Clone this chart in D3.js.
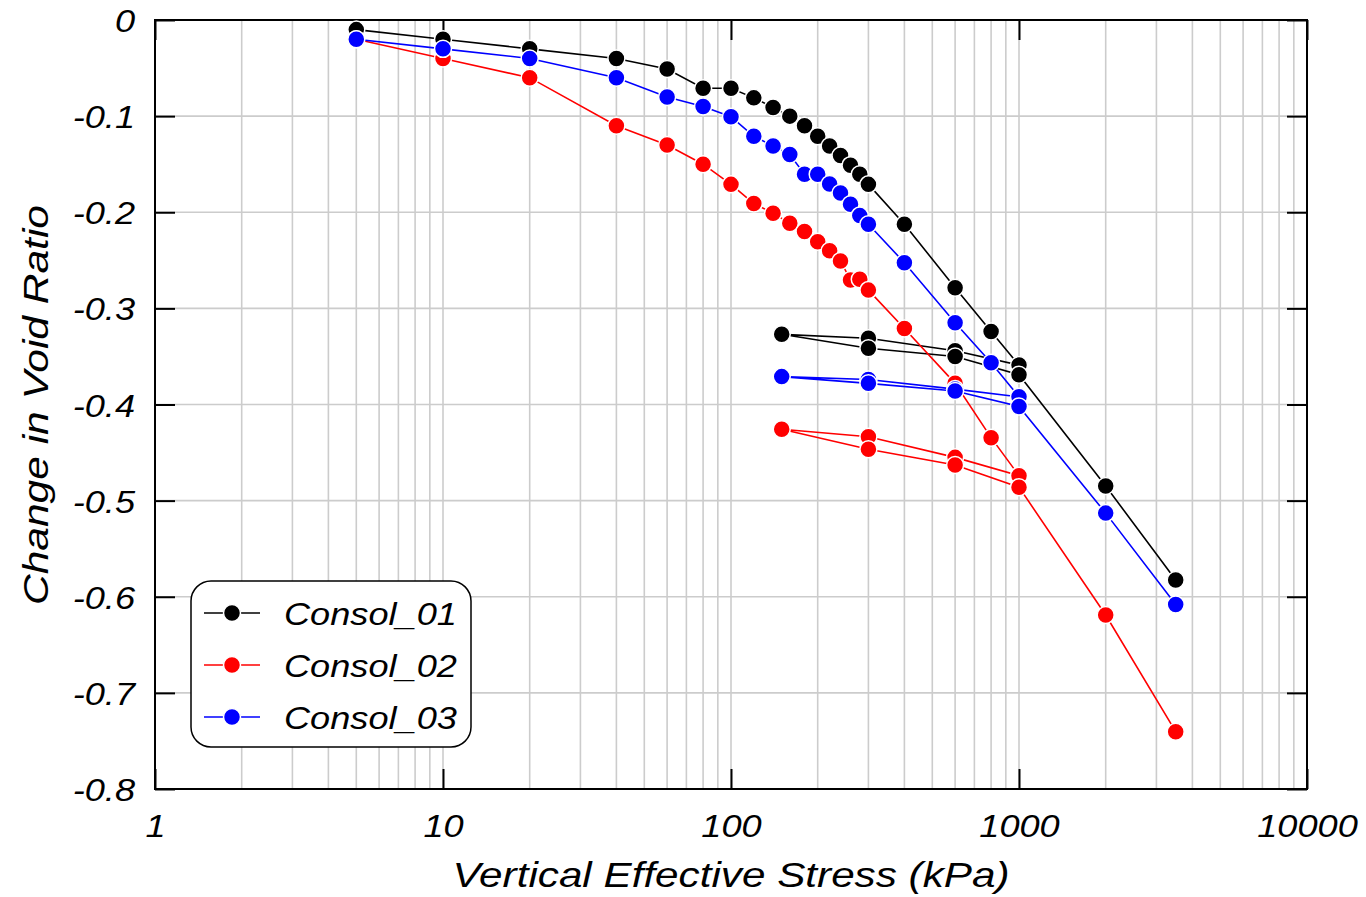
<!DOCTYPE html>
<html>
<head>
<meta charset="utf-8">
<script src="https://cdn.jsdelivr.net/npm/d3@7"></script>
<style>
  body { margin: 0; background: #fff; }
  svg { display: block; }
  text { font-family: "Liberation Sans", Arial, sans-serif; font-style: italic; fill: #000; }
</style>
</head>
<body>
<svg id="chart" width="1366" height="897"></svg>
<script>
// ---- data ----
const stress = [5,10,20,40,60,80,100,120,140,160,180,200,220,240,260,280,300,400,600,800,1000,600,300,150,300,600,1000,2000,3500];
const consol01 = [-0.01,-0.02,-0.03,-0.04,-0.051,-0.071,-0.071,-0.081,-0.091,-0.100,-0.110,-0.121,-0.131,-0.141,-0.151,-0.1605,-0.171,-0.2125,-0.2785,-0.324,-0.359,-0.344,-0.331,-0.327,-0.3415,-0.350,-0.369,-0.4848,-0.5826];
const consol02 = [-0.02,-0.04,-0.06,-0.11,-0.13,-0.15,-0.171,-0.191,-0.201,-0.2115,-0.220,-0.2306,-0.240,-0.2507,-0.2705,-0.2697,-0.281,-0.321,-0.378,-0.4345,-0.474,-0.455,-0.4335,-0.4258,-0.4466,-0.463,-0.486,-0.619,-0.7404];
const consol03 = [-0.02,-0.03,-0.04,-0.06,-0.08,-0.09,-0.1006,-0.121,-0.131,-0.140,-0.1605,-0.1605,-0.1706,-0.180,-0.1917,-0.2035,-0.2125,-0.2525,-0.315,-0.3565,-0.392,-0.384,-0.374,-0.371,-0.378,-0.386,-0.402,-0.513,-0.608];
const seriesNames = ["Consol_01","Consol_02","Consol_03"];
const seriesColors = ["#000000","#ff0000","#0000ff"];
const xTickLabels = ["1","10","100","1000","10000"];
const yTickLabels = ["0","-0.1","-0.2","-0.3","-0.4","-0.5","-0.6","-0.7","-0.8"];
const xTitle = "Vertical Effective Stress (kPa)";
const yTitle = "Change in Void Ratio";

const series = [consol01, consol02, consol03].map((vals, i) => ({
  name: seriesNames[i], color: seriesColors[i],
  points: vals.map((v, j) => ({x: stress[j], y: v}))
}));

// ---- layout ----
const L = 155, R = 1307, T = 20, B = 789;
const svg = d3.select("#chart");
const x = d3.scaleLog().domain([1, 10000]).range([L, R]);
const y = d3.scaleLinear().domain([0, -0.8]).range([T, B]);

const FS = 32, WSCALE = 1.13;
function stretch(sel) {
  sel.each(function() {
    const t = d3.select(this);
    const w = this.getComputedTextLength();
    t.attr("textLength", w * WSCALE).attr("lengthAdjust", "spacingAndGlyphs");
  });
}

// grid
const grid = svg.append("g").attr("stroke", "#cccccc").attr("stroke-width", 1.6);
const minorX = [];
for (let d = 1; d < 10000; d *= 10) for (let k = 2; k <= 9; k++) minorX.push(d * k);
const majorX = [10, 100, 1000];
grid.selectAll(".gx").data(minorX.concat(majorX)).join("line")
  .attr("x1", d => x(d)).attr("x2", d => x(d)).attr("y1", T).attr("y2", B);
const yVals = yTickLabels.map(Number);
grid.selectAll(".gy").data(yVals.slice(1, -1)).join("line")
  .attr("x1", L).attr("x2", R).attr("y1", d => y(d)).attr("y2", d => y(d));

// axes (inward ticks)
const xb = svg.append("g").attr("transform", `translate(0,${B})`)
  .call(d3.axisBottom(x).tickValues(xTickLabels.map(Number)).tickSize(-20).tickFormat((d, i) => xTickLabels[i]));
const xt = svg.append("g").attr("transform", `translate(0,${T})`)
  .call(d3.axisTop(x).tickValues(xTickLabels.map(Number)).tickSize(-20).tickFormat(""));
const yl = svg.append("g").attr("transform", `translate(${L},0)`)
  .call(d3.axisLeft(y).tickValues(yVals).tickSize(-20).tickFormat((d, i) => yTickLabels[i]));
const yr = svg.append("g").attr("transform", `translate(${R},0)`)
  .call(d3.axisRight(y).tickValues(yVals).tickSize(-20).tickFormat(""));
[xb, xt, yl, yr].forEach(g => {
  g.select(".domain").remove();
  g.selectAll(".tick line").attr("stroke", "#000").attr("stroke-width", 2);
  g.selectAll("text").attr("font-size", FS).attr("font-family", "Liberation Sans, Arial, sans-serif").attr("font-style", "italic");
});
xb.selectAll(".tick text").attr("y", 48).attr("dy", 0).call(stretch);
yl.selectAll(".tick text").attr("x", -20).attr("dy", "0.36em").call(stretch);

// frame
svg.append("rect").attr("x", L).attr("y", T).attr("width", R - L).attr("height", B - T)
  .attr("fill", "none").attr("stroke", "#000").attr("stroke-width", 2);

// series
const line = d3.line().x(d => x(d.x)).y(d => y(d.y));
series.forEach(s => {
  const g = svg.append("g");
  g.append("path").datum(s.points).attr("d", line).attr("fill", "none")
    .attr("stroke", s.color).attr("stroke-width", 1.6);
  g.selectAll("circle").data(s.points).join("circle")
    .attr("cx", d => x(d.x)).attr("cy", d => y(d.y)).attr("r", 8.5)
    .attr("fill", s.color).attr("stroke", "#fff").attr("stroke-width", 1.5);
});

// titles
svg.append("text").attr("x", (L + R) / 2).attr("y", 887).attr("text-anchor", "middle")
  .attr("font-size", 35).text(xTitle).attr("textLength", 557).attr("lengthAdjust", "spacingAndGlyphs");
svg.append("text").attr("transform", "translate(48,405) rotate(-90)").attr("text-anchor", "middle")
  .attr("font-size", 35).text(yTitle).attr("textLength", 400).attr("lengthAdjust", "spacingAndGlyphs");

// legend
const lg = svg.append("g");
lg.append("rect").attr("x", 191).attr("y", 581).attr("width", 280).attr("height", 166).attr("rx", 20)
  .attr("fill", "#fff").attr("stroke", "#000").attr("stroke-width", 1.5);
series.forEach((s, i) => {
  const cy = 613 + i * 52;
  lg.append("line").attr("x1", 204).attr("x2", 260).attr("y1", cy).attr("y2", cy)
    .attr("stroke", s.color).attr("stroke-width", 1.6);
  lg.append("circle").attr("cx", 232).attr("cy", cy).attr("r", 8.5)
    .attr("fill", s.color).attr("stroke", "#fff").attr("stroke-width", 1.5);
  lg.append("text").attr("x", 284).attr("y", cy + 12).attr("font-size", FS).text(s.name).call(stretch);
});
</script>
</body>
</html>
